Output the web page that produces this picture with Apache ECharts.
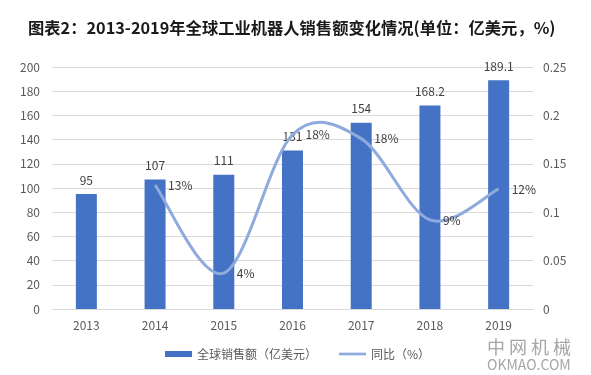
<!DOCTYPE html>
<html><head><meta charset="utf-8">
<script src="https://cdn.jsdelivr.net/npm/echarts@6/dist/echarts.min.js"></script>
<style>html,body{margin:0;padding:0;background:#fff}#c{width:591px;height:375px}</style>
</head><body><div id="c"></div>
<script>
const categories = ['2013','2014','2015','2016','2017','2018','2019'];
const sales = [95, 107, 111, 131, 154, 168.2, 189.1];
const growth = [null, 0.128, 0.037, 0.180, 0.176, 0.092, 0.124];
const leftTicks = {min: 0, max: 200, interval: 20};
const rightTicks = {min: 0, max: 0.25, interval: 0.05};

const chart = echarts.init(document.getElementById('c'));
const font = '"Microsoft YaHei","Noto Sans CJK SC",sans-serif';
const lineColor = '#8FAADC';

// Excel-style smoothed curve through the growth points, positioned via the axes
function renderCurve(params, api) {
  const idx = api.value(0);
  const here = api.coord([idx, api.value(1)]);
  const children = [{
    type: 'text', z2: 10,
    style: {text: Math.round(api.value(1) * 100) + '%', x: here[0] + 13, y: here[1],
            verticalAlign: 'middle', fill: '#404040', fontSize: 12, fontFamily: font}
  }];
  if (params.dataIndexInside === 0) {
    const pts = [];
    growth.forEach((v, i) => { if (v != null) pts.push(api.coord([i, v])); });
    const n = pts.length;
    const P = i => pts[Math.max(0, Math.min(n - 1, i))];
    let d = 'M' + pts[0][0] + ',' + pts[0][1];
    for (let i = 0; i < n - 1; i++) {
      const p0 = P(i - 1), p1 = P(i), p2 = P(i + 1), p3 = P(i + 2);
      const c1 = [p1[0] + (p2[0] - p0[0]) / 6, p1[1] + (p2[1] - p0[1]) / 6];
      const c2 = [p2[0] - (p3[0] - p1[0]) / 6, p2[1] - (p3[1] - p1[1]) / 6];
      d += ' C' + c1[0] + ',' + c1[1] + ' ' + c2[0] + ',' + c2[1] + ' ' + p2[0] + ',' + p2[1];
    }
    children.unshift({type: 'path', shape: {pathData: d},
            style: {stroke: lineColor, lineWidth: 3, fill: null}});
  }
  return {type: 'group', children};
}

chart.setOption({
  animation: false,
  textStyle: {fontFamily: font},
  title: {
    text: '图表2：2013-2019年全球工业机器人销售额变化情况(单位：亿美元，%)',
    left: 23, top: 15,
    textStyle: {fontSize: 16.3, fontWeight: 'bold', color: '#1a1a1a', fontFamily: font}
  },
  grid: {left: 52, right: 58, top: 67, bottom: 66},
  legend: {
    bottom: 10, left: 160, itemGap: 22, itemWidth: 27, itemHeight: 6,
    textStyle: {fontSize: 12, color: '#595959'},
    data: [
      {name: '全球销售额（亿美元）', icon: 'rect'},
      {name: '同比（%）', icon: 'path://M0,0 L30,0 L30,3 L0,3 Z', itemStyle: {color: lineColor}}
    ]
  },
  xAxis: {
    type: 'category', data: categories,
    axisLine: {lineStyle: {color: '#d9d9d9'}},
    axisTick: {show: false},
    axisLabel: {color: '#595959', fontSize: 12, margin: 10}
  },
  yAxis: [
    {type: 'value', min: leftTicks.min, max: leftTicks.max, interval: leftTicks.interval,
     axisLine: {show: false}, axisTick: {show: false},
     axisLabel: {color: '#595959', fontSize: 12, margin: 12},
     splitLine: {lineStyle: {color: '#d9d9d9'}}},
    {type: 'value', min: rightTicks.min, max: rightTicks.max, interval: rightTicks.interval,
     axisLine: {show: false}, axisTick: {show: false},
     axisLabel: {color: '#595959', fontSize: 12, margin: 10},
     splitLine: {show: false}}
  ],
  series: [
    {name: '全球销售额（亿美元）', type: 'bar', data: sales, barWidth: 21,
     itemStyle: {color: '#4472C4'},
     label: {show: true, position: 'top', color: '#404040', fontSize: 12, distance: 8}},
    {name: '同比（%）', type: 'custom', yAxisIndex: 1, renderItem: renderCurve,
     itemStyle: {color: lineColor},
     data: growth.map((v, i) => [i, v]).filter(d => d[1] != null), z: 3}
  ],
  graphic: [
    {type: 'text', left: 487, top: 338, style: {text: '中 网 机 械', fontSize: 18, fill: '#a6a6a6', fontFamily: font}},
    {type: 'text', left: 487, top: 358, style: {text: 'OKMAO.COM', fontSize: 14, fill: '#a6a6a6', fontFamily: font}}
  ]
});
</script></body></html>
